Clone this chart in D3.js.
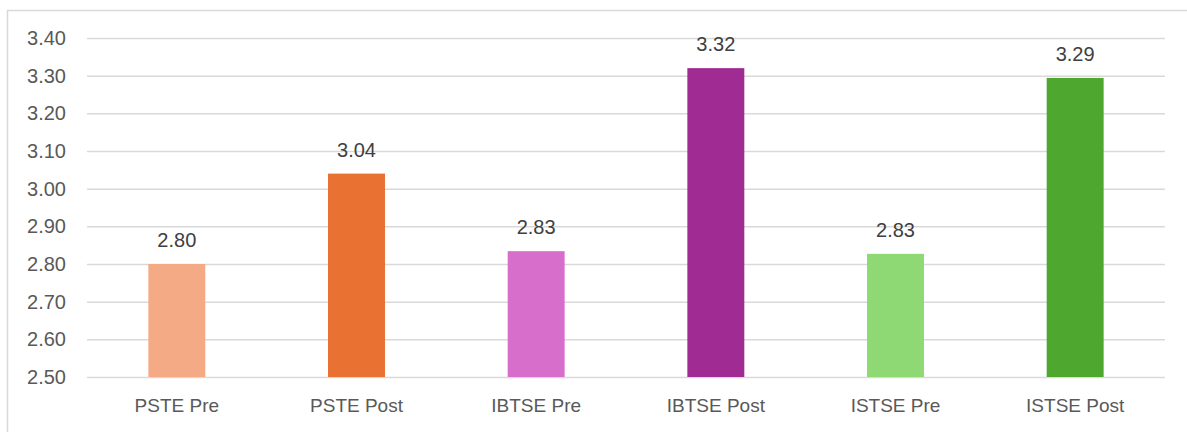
<!DOCTYPE html>
<html>
<head>
<meta charset="utf-8">
<script src="https://cdn.jsdelivr.net/npm/d3@7"></script>
<style>
  body { margin: 0; background: #fff; }
  text { font-family: "Liberation Sans", Arial, sans-serif; }
</style>
</head>
<body>
<svg id="chart"></svg>
<script>
// categories and values
var categories = ["PSTE Pre", "PSTE Post", "IBTSE Pre", "IBTSE Post", "ISTSE Pre", "ISTSE Post"];
var values = [2.80, 3.04, 2.834, 3.32, 2.827, 3.294];
var colors = ["#F4AB85", "#E97132", "#D86ECC", "#A02B93", "#8ED973", "#4EA72E"];
var yTicks = [2.5, 2.6, 2.7, 2.8, 2.9, 3.0, 3.1, 3.2, 3.3, 3.4];

var w = 1187;
var h = 432;
var padding = { top: 38, bottom: 55, left: 87, right: 22 };

var svg = d3.select("#chart")
  .attr("width", w)
  .attr("height", h);

// outer chart border
svg.append("rect")
  .attr("x", 7.5)
  .attr("y", 10.5)
  .attr("width", w + 20)
  .attr("height", h + 20)
  .attr("fill", "none")
  .attr("stroke", "#d9d9d9")
  .attr("stroke-width", 1.5);

var xScale = d3.scaleBand()
  .domain(categories)
  .range([padding.left, w - padding.right])
  .paddingInner(0.683)
  .paddingOuter(0.3415);

var yScale = d3.scaleLinear()
  .domain([2.5, 3.4])
  .range([h - padding.bottom, padding.top]);

// gridlines
var yAxis = d3.axisLeft(yScale)
  .tickValues(yTicks)
  .tickSize(-(w - padding.left - padding.right))
  .tickPadding(21)
  .tickFormat(d3.format(".2f"));

var gy = svg.append("g")
  .attr("transform", "translate(" + padding.left + ",0)")
  .call(yAxis);
gy.select(".domain").remove();
gy.selectAll("line").attr("stroke", "#d9d9d9").attr("stroke-width", 1.5);
gy.selectAll("text")
  .attr("fill", "#595959")
  .attr("font-size", "20px");

// bars
svg.selectAll("rect.bar")
  .data(values)
  .enter()
  .append("rect")
  .attr("class", "bar")
  .attr("x", function(d, i) { return xScale(categories[i]); })
  .attr("width", xScale.bandwidth())
  .attr("y", function(d) { return yScale(d); })
  .attr("height", function(d) { return yScale(2.5) - yScale(d); })
  .attr("fill", function(d, i) { return colors[i]; });

// data labels
svg.selectAll("text.val")
  .data(values)
  .enter()
  .append("text")
  .attr("class", "val")
  .attr("x", function(d, i) { return xScale(categories[i]) + xScale.bandwidth() / 2; })
  .attr("y", function(d) { return yScale(d) - 17; })
  .attr("text-anchor", "middle")
  .attr("fill", "#404040")
  .attr("font-size", "20px")
  .text(function(d) { return d3.format(".2f")(d); });

// category labels
var xAxis = d3.axisBottom(xScale).tickSize(0).tickPadding(22);
var gx = svg.append("g")
  .attr("transform", "translate(0," + (h - padding.bottom) + ")")
  .call(xAxis);
gx.select(".domain").remove();
gx.selectAll("text")
  .attr("fill", "#595959")
  .attr("font-size", "19px");
</script>
</body>
</html>
